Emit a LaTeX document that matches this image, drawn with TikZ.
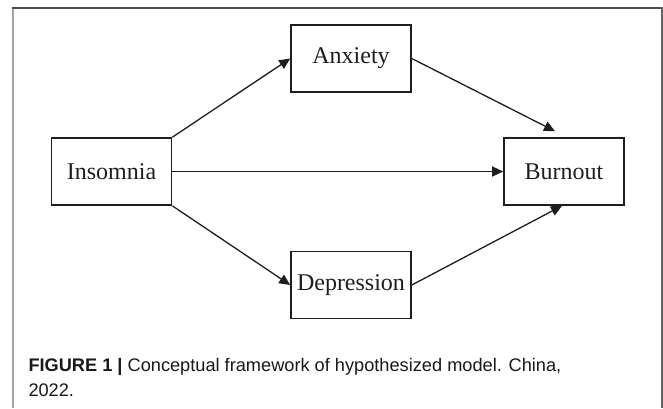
\documentclass[tikz,border=0pt]{standalone}
\usepackage{fontspec}
\setmainfont{Liberation Serif}
\newfontfamily\capfont{Liberation Sans}
\usetikzlibrary{arrows.meta}
\definecolor{ink}{HTML}{1E1E1E}
\tikzset{
  box/.style={draw=ink, line width=1.6pt, minimum width=120pt, minimum height=67pt, inner sep=0pt, font=\fontsize{24}{28}\selectfont, text=ink},
  link/.style={draw=ink, line width=1.3pt, -{Triangle[length=11pt,width=10pt]}},
  captext/.style={anchor=base west, inner sep=0pt, font=\capfont\fontsize{18.2}{25}\selectfont, text=black!90},
}
\begin{document}
\begin{tikzpicture}[x=1pt,y=-1pt]
\useasboundingbox (0,0) rectangle (663,408);
% frame
\draw[color=black!35, line width=2pt] (12.7,408) -- (12.7,8.3);
\draw[color=black!70, line width=2pt] (11.7,8.3) -- (662.5,8.3);
\draw[color=black!60, line width=2pt] (661.7,7.3) -- (661.7,408);
% nodes
\node[box] (ins) at (111.5,171.5) {Insomnia};
\node[box] (anx) at (351,58.5) {Anxiety};
\node[box] (bur) at (564,171.5) {Burnout};
\node[box] (dep) at (351,285) {Depression};
% links
\draw[link] (ins.north east) -- (anx.west);
\draw[link] (anx.east) -- ([xshift=-9pt,yshift=6pt]bur.north);
\draw[link] (ins.east) -- (bur.west);
\draw[link] (ins.south east) -- (dep.west);
\draw[link] (dep.east) -- ([xshift=-2pt]bur.south);
% caption
\node[captext] (cap1) at (28.3,371) {\textbf{FIGURE 1} \textbf{|} Conceptual framework of hypothesized model. China,};
\node[captext] (cap2) at (28.3,396) {2022.};
\end{tikzpicture}
\end{document}
